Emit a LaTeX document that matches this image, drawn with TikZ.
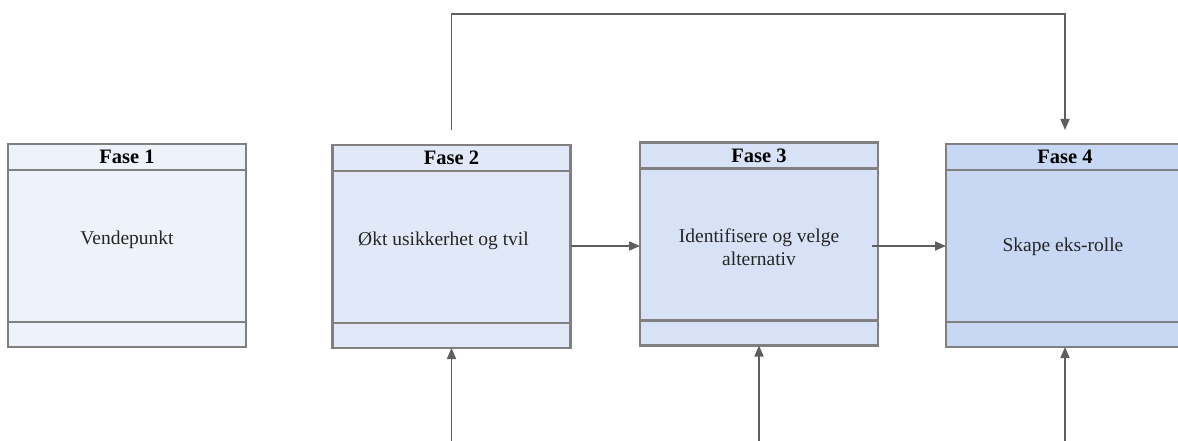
\documentclass[tikz,border=0pt]{standalone}
\usepackage{fontspec}
\setmainfont{Liberation Serif}
\usetikzlibrary{arrows.meta}
\definecolor{bordergray}{HTML}{808080}
\definecolor{arrowgray}{HTML}{5E5E5E}
\definecolor{fillA}{HTML}{EEF2FB}
\definecolor{fillB}{HTML}{E1E8F8}
\definecolor{fillC}{HTML}{D7E2F6}
\definecolor{fillD}{HTML}{C7D7F4}
\begin{document}
\begin{tikzpicture}[x=1pt,y=-1pt,
  phase/.style={draw=bordergray,line width=2.2pt,minimum width=238pt,minimum height=203pt,inner sep=0pt,outer sep=0pt},
  sepline/.style={draw=bordergray,line width=2.2pt},
  head/.style={font=\fontsize{20.5}{24}\selectfont\bfseries,inner sep=0pt},
  body/.style={font=\fontsize{19.5}{22.5}\selectfont,inner sep=0pt,align=center,text=black!85},
  conn/.style={draw=arrowgray,line width=1.6pt,-{Triangle[length=11pt,width=9pt]}}]
\useasboundingbox (0,0) rectangle (1178,441);
\clip (0,0) rectangle (1178,441);
\fill[white] (0,0) rectangle (1178,441);

% boxes
\node[phase,fill=fillA] (b1) at (127,245.5) {};
\node[phase,fill=fillB] (b2) at (451.5,246.5) {};
\node[phase,fill=fillC] (b3) at (759,244) {};
\node[phase,fill=fillD] (b4) at (1065,245.5) {};

\foreach \b in {b1,b2,b3,b4}{
  \draw[sepline] ([yshift=-26pt]\b.north west) -- ([yshift=-26pt]\b.north east);
  \draw[sepline] ([yshift=25pt]\b.south west) -- ([yshift=25pt]\b.south east);
}

% headers
\node[head] (h1) at ([yshift=-13pt]b1.north) {Fase 1};
\node[head] (h2) at ([yshift=-13pt]b2.north) {Fase 2};
\node[head] (h3) at ([yshift=-13pt]b3.north) {Fase 3};
\node[head] (h4) at ([yshift=-13pt]b4.north) {Fase 4};

% body texts
\node[body] (t1) at ([yshift=5.5pt]b1.center) {Vendepunkt};
\node[body,anchor=west] (t2) at ([xshift=-93.5pt,yshift=5.5pt]b2.center) {Økt usikkerhet og tvil};
\node[body] (t3) at ([yshift=-3pt]b3.center) {Identifisere og velge\\alternativ};
\node[body] (t4) at ([xshift=-2pt,yshift=-1pt]b4.center) {Skape eks-rolle};

% horizontal connectors
\draw[conn] ([yshift=0.5pt]b2.east) -- ([yshift=0.5pt]b2.east -| b3.west);
\coordinate (m3) at ([xshift=-6pt,yshift=-2pt]b3.east);
\draw[conn] (m3) -- (m3 -| b4.west);

% top feedback connector
\coordinate (top2) at ([yshift=15pt]b2.north);
\coordinate (top4) at ([yshift=14pt]b4.north);
\draw[conn] (top2) -- (top2 |- 0,14) -| (top4);

% bottom incoming connectors
\coordinate (s2) at (b2.south |- 0,445);
\coordinate (s3) at (b3.south |- 0,445);
\coordinate (s4) at (b4.south |- 0,445);
\draw[conn] (s2) -- (b2.south);
\draw[conn] (s3) -- (b3.south);
\draw[conn] (s4) -- (b4.south);
\end{tikzpicture}
\end{document}
